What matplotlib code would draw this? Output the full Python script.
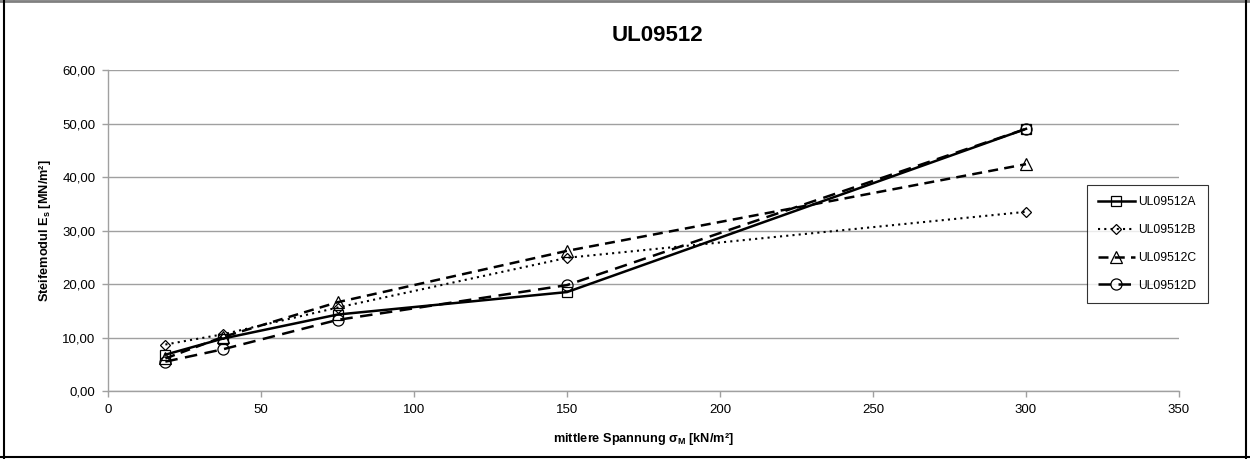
import matplotlib
matplotlib.use("Agg")
import matplotlib.pyplot as plt
from matplotlib.lines import Line2D

plt.rcParams['font.family'] = ['Liberation Sans', 'DejaVu Sans']
plt.rcParams['mathtext.fontset'] = 'custom'
plt.rcParams['mathtext.rm'] = 'Liberation Sans'
plt.rcParams['mathtext.it'] = 'Liberation Sans'
plt.rcParams['mathtext.bf'] = 'Liberation Sans:bold'

# mean vertical stress levels [kN/m²]
sigma_m = [18.75, 37.5, 75, 150, 300]

# constrained modulus per specimen [MN/m²]
es_a = [6.8, 9.8, 14.3, 18.5, 49.0]
es_b = [8.7, 10.6, 15.6, 24.9, 33.5]
es_c = [6.1, 10.1, 16.6, 26.2, 42.4]
es_d = [5.5, 7.8, 13.3, 19.8, 49.0]

series_names = ["UL09512A", "UL09512B", "UL09512C", "UL09512D"]
title = "UL09512"

x_ticks = [0, 50, 100, 150, 200, 250, 300, 350]
y_ticks = [0, 10, 20, 30, 40, 50, 60]

fig = plt.figure(figsize=(12.5, 4.59), dpi=100)
ax = fig.add_axes([0.0864, 0.148, 0.8568, 0.6995])

styles = [
    dict(ls='-', lw=1.8, marker='s', ms=7),
    dict(ls=(0, (1, 2)), lw=1.5, marker='D', ms=5.5),
    dict(ls=(0, (4, 2.5)), lw=1.8, marker='^', ms=8),
    dict(ls=(0, (5, 3)), lw=1.8, marker='o', ms=8),
]
for vals, name, st in zip([es_a, es_b, es_c, es_d], series_names, styles):
    ax.plot(sigma_m, vals, color='black', linestyle=st['ls'], lw=st['lw'],
            marker=st['marker'], ms=st['ms'], mfc='none', mec='black',
            mew=0.9, label=name, zorder=3)

ax.set_xlim(0, 350)
ax.set_ylim(0, 60)
ax.set_xticks(x_ticks)
ax.set_xticklabels([str(v) for v in x_ticks])
ax.set_yticks(y_ticks)
ax.set_yticklabels([f"{v:.2f}".replace('.', ',') for v in y_ticks])

ax.yaxis.grid(True, color='#a0a0a0', lw=1.0)
ax.set_axisbelow(True)
for side in ['top', 'right']:
    ax.spines[side].set_visible(False)
for side in ['left', 'bottom']:
    ax.spines[side].set_color('#a0a0a0')
    ax.spines[side].set_linewidth(1.0)
ax.tick_params(axis='both', colors='#a0a0a0', labelcolor='black',
               labelsize=9.5, length=4, width=1.0)
ax.tick_params(axis='y', pad=5)
ax.tick_params(axis='x', pad=5)

ax.set_xlabel(r"mittlere Spannung $\mathbf{\sigma_M}$ [kN/m²]",
              fontsize=9.2, fontweight='bold', labelpad=11)
ax.set_ylabel(r"Steifemodul E$_\mathbf{s}$ [MN/m²]",
              fontsize=9.2, fontweight='bold', labelpad=7)

fig.text(0.526, 0.922, title, ha='center', va='center',
         fontsize=16, fontweight='bold')

leg = ax.legend(loc='upper left', bbox_to_anchor=(0.914, 0.642),
                fontsize=8.7, frameon=True, fancybox=False,
                edgecolor='black', handlelength=3.0, labelspacing=1.3,
                borderpad=0.95, handletextpad=0.3, borderaxespad=0)
leg.get_frame().set_linewidth(0.8)

# outer chart frame: grey top edge, black sides and bottom
frame = [
    ((0.0, 1.0), (0.998, 0.998), '#808080', 2.0),
    ((0.003, 0.003), (0.0, 1.0), 'black', 1.5),
    ((0.997, 0.997), (0.0, 1.0), 'black', 1.5),
    ((0.0, 1.0), (0.004, 0.004), 'black', 1.5),
]
for xs, ys, col, w in frame:
    fig.add_artist(Line2D(xs, ys, transform=fig.transFigure, color=col, lw=w))

fig.savefig("out.png", dpi=100)
